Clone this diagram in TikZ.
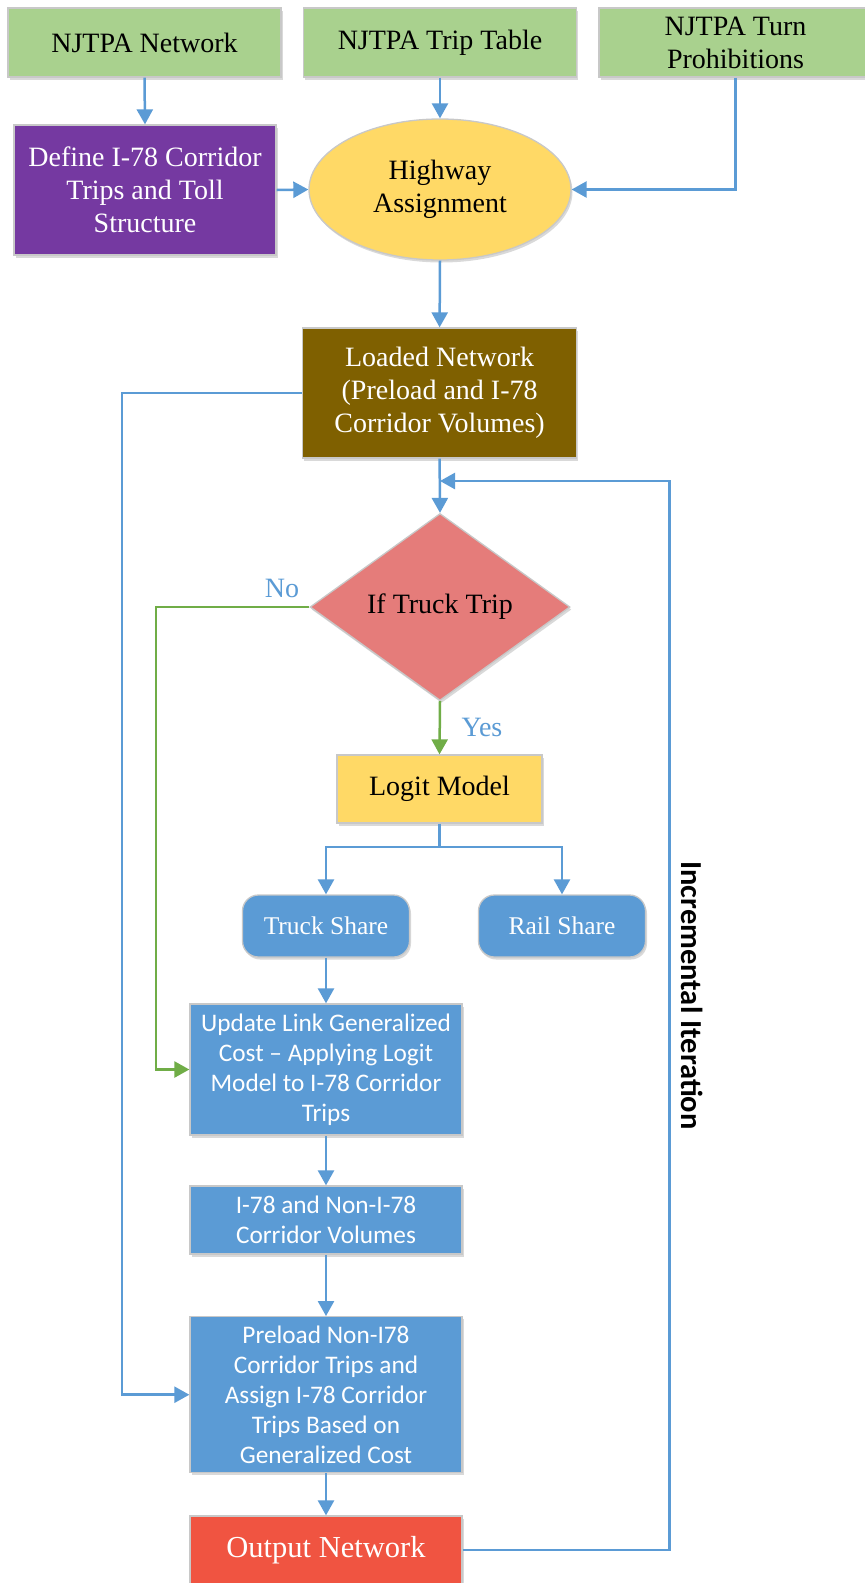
\documentclass[tikz,border=0pt]{standalone}
\usepackage{fontspec}
\setmainfont{Liberation Serif}
\newfontfamily\calibrifont{Carlito}
\usetikzlibrary{shapes.geometric,arrows.meta,shadows}
\definecolor{boxgreen}{HTML}{A9D18E}
\definecolor{boxpurple}{HTML}{7539A1}
\definecolor{boxyellow}{HTML}{FFD966}
\definecolor{boxbrown}{HTML}{7F6000}
\definecolor{boxpink}{HTML}{E57C7A}
\definecolor{boxblue}{HTML}{5B9BD5}
\definecolor{boxred}{HTML}{F05441}
\definecolor{lineblue}{HTML}{5B9BD5}
\definecolor{linegreen}{HTML}{70AD47}
\definecolor{edgegray}{HTML}{C8C8C8}
\tikzset{
  base/.style={draw=edgegray, line width=1.3pt, align=center, inner sep=2pt,
    drop shadow={shadow xshift=1.5pt, shadow yshift=-2.5pt, opacity=0.15, fill=black}},
  tnr/.style={font=\fontsize{28}{33}\selectfont},
  cal/.style={font=\calibrifont\fontsize{25.3}{30}\selectfont},
  ln/.style={draw=lineblue, line width=2.5pt},
  arr/.style={draw=lineblue, line width=2.5pt, -{Triangle[length=15pt,width=16pt]}},
  garr/.style={draw=linegreen, line width=2.5pt, -{Triangle[length=15pt,width=16pt]}},
  lbl/.style={text=lineblue, font=\fontsize{28}{33}\selectfont, inner sep=0pt}
}
\begin{document}
\begin{tikzpicture}[x=1pt,y=-1pt]
\fill[white] (0,0) rectangle (865,1583);
\useasboundingbox (0,0) rectangle (865,1583);

% top row
\node[base, tnr, fill=boxgreen, minimum width=273pt, minimum height=69pt] (net) at (144.5,42.5) {NJTPA Network};
\node[base, tnr, fill=boxgreen, minimum width=273pt, minimum height=69pt] (trip) at (440,42.5) {NJTPA Trip Table};
\node[base, tnr, fill=boxgreen, minimum width=273pt, minimum height=69pt] (turn) at (735.5,42.5) {NJTPA Turn\\Prohibitions};

\node[base, tnr, fill=boxpurple, text=white, minimum width=262pt, minimum height=130pt] (define) at (145,190) {Define I-78 Corridor\\Trips and Toll\\Structure};
\node[base, tnr, ellipse, fill=boxyellow, minimum width=262pt, minimum height=141pt] (hwy) at (440,189.5) {Highway\\Assignment};

\node[base, tnr, fill=boxbrown, text=white, minimum width=274pt, minimum height=130pt] (loaded) at (439.6,393) {Loaded Network\\(Preload and I-78\\Corridor Volumes)};

\node[base, tnr, diamond, fill=boxpink, minimum width=260pt, minimum height=187pt, inner sep=0pt] (dia) at (440,607) {If Truck Trip};

\node[base, tnr, fill=boxyellow, minimum width=205pt, minimum height=68pt] (logit) at (439.5,789) {Logit Model};

\node[base, rounded corners=16pt, fill=boxblue, text=white, minimum width=167pt, minimum height=62pt, font=\fontsize{25.5}{30}\selectfont] (truck) at (326,926) {Truck Share};
\node[base, rounded corners=16pt, fill=boxblue, text=white, minimum width=167pt, minimum height=62pt, font=\fontsize{25.5}{30}\selectfont] (rail) at (562,926) {Rail Share};

\node[base, cal, fill=boxblue, text=white, minimum width=272pt, minimum height=131pt] (update) at (326,1069.5) {Update Link Generalized\\Cost – Applying Logit\\Model to I-78 Corridor\\Trips};
\node[base, cal, fill=boxblue, text=white, minimum width=272pt, minimum height=68pt] (i78) at (326,1220) {I-78 and Non-I-78\\Corridor Volumes};
\node[base, cal, fill=boxblue, text=white, minimum width=272pt, minimum height=156pt] (preload) at (326,1394.7) {Preload Non-I78\\Corridor Trips and\\Assign I-78 Corridor\\Trips Based on\\Generalized Cost};
\node[base, fill=boxred, text=white, minimum width=272pt, minimum height=68pt, font=\fontsize{30.5}{36}\selectfont] (output) at (326,1550) {Output Network};

% labels
\node[lbl] (nolbl) at (282,588) {No};
\node[lbl] (yeslbl) at (482,727) {Yes};
\node[rotate=-90, font=\calibrifont\bfseries\fontsize{30.5}{34}\selectfont, inner sep=0pt] (iter) at (692,995.5) {Incremental Iteration};

% helper coordinates
\coordinate (lTop) at (122,393);
\coordinate (lBot) at (122,1394.7);
\coordinate (noBend) at (156,607);
\coordinate (noBot) at (156,1069.5);
\coordinate (split) at (439.5,847);
\coordinate (fbA) at (669.5,1550);
\coordinate (fbB) at (669.5,481);
\coordinate (fbC) at (440,481);

% connectors
\draw[arr] (net.south) -- (define.north);
\draw[arr] (trip.south) -- (hwy.north);
\draw[arr] (turn.south) |- (hwy.east);
\draw[arr] (define.east) -- (hwy.west);
\draw[arr] (hwy.south) -- (loaded.north);
\draw[arr] (loaded.south) -- (dia.north);
\draw[arr] (loaded.west) -- (lTop) -- (lBot) -- (preload.west);
\draw[arr] (output.east) -- (fbA) -- (fbB) -- (fbC);
\draw[garr] (dia.west) -- (noBend) -- (noBot) -- (update.west);
\draw[garr] (dia.south) -- (logit.north);
\draw[ln] (logit.south) -- (split);
\draw[arr] (split) -| (truck.north);
\draw[arr] (split) -| (rail.north);
\draw[arr] (truck.south) -- (update.north);
\draw[arr] (update.south) -- (i78.north);
\draw[arr] (i78.south) -- (preload.north);
\draw[arr] (preload.south) -- (output.north);
\end{tikzpicture}
\end{document}
